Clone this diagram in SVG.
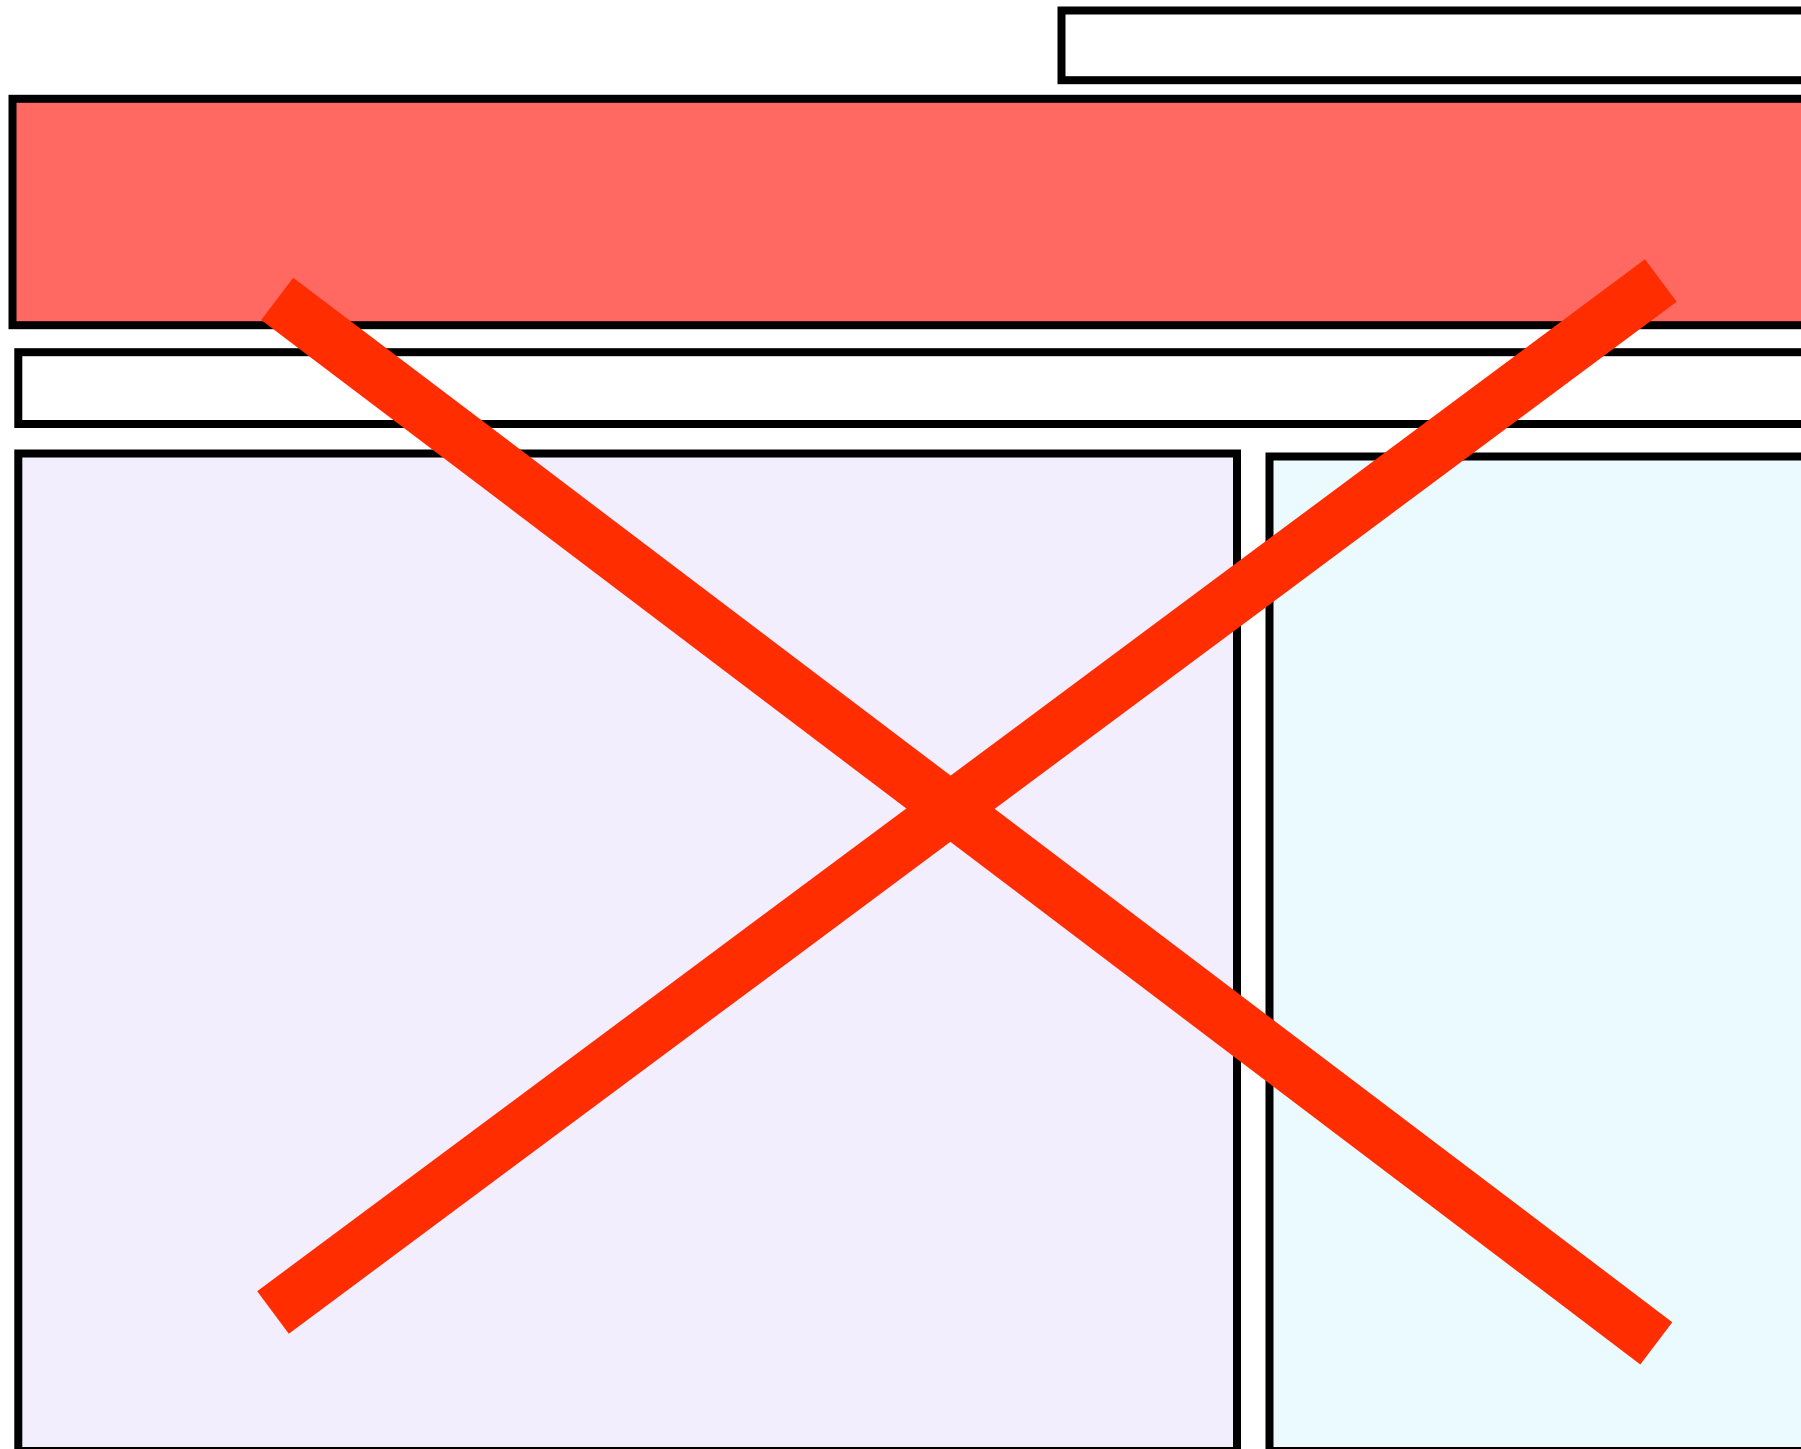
<svg xmlns="http://www.w3.org/2000/svg" width="1801" height="1449" viewBox="0 0 1801 1449">
  <style>
    .box { stroke: #000000; stroke-width: 8; }
    .cross { stroke: #FF2D00; stroke-width: 53; stroke-linecap: butt; fill: none; }
  </style>
  <rect x="0" y="0" width="1801" height="1449" fill="#FFFFFF"/>
  <g id="top-bar">
    <rect class="box" x="1061.5" y="10.5" width="760" height="69.7" fill="#FFFFFF"/>
  </g>
  <g id="red-banner">
    <rect class="box" x="12.5" y="98.8" width="1810" height="226.4" fill="#FF6961"/>
  </g>
  <g id="white-bar">
    <rect class="box" x="18.3" y="352.2" width="1805" height="71.8" fill="#FFFFFF"/>
  </g>
  <g id="left-panel">
    <rect class="box" x="18.3" y="453.5" width="1218.7" height="997.5" fill="#F2EEFD"/>
  </g>
  <g id="right-panel">
    <rect class="box" x="1269.5" y="456.5" width="560" height="994.5" fill="#EBFAFE"/>
  </g>
  <g id="connectors">
    <line class="cross" x1="277.2" y1="298.8" x2="1656.3" y2="1343.3"/>
    <line class="cross" x1="273" y1="1312.5" x2="1660.8" y2="280.5"/>
  </g>
</svg>
